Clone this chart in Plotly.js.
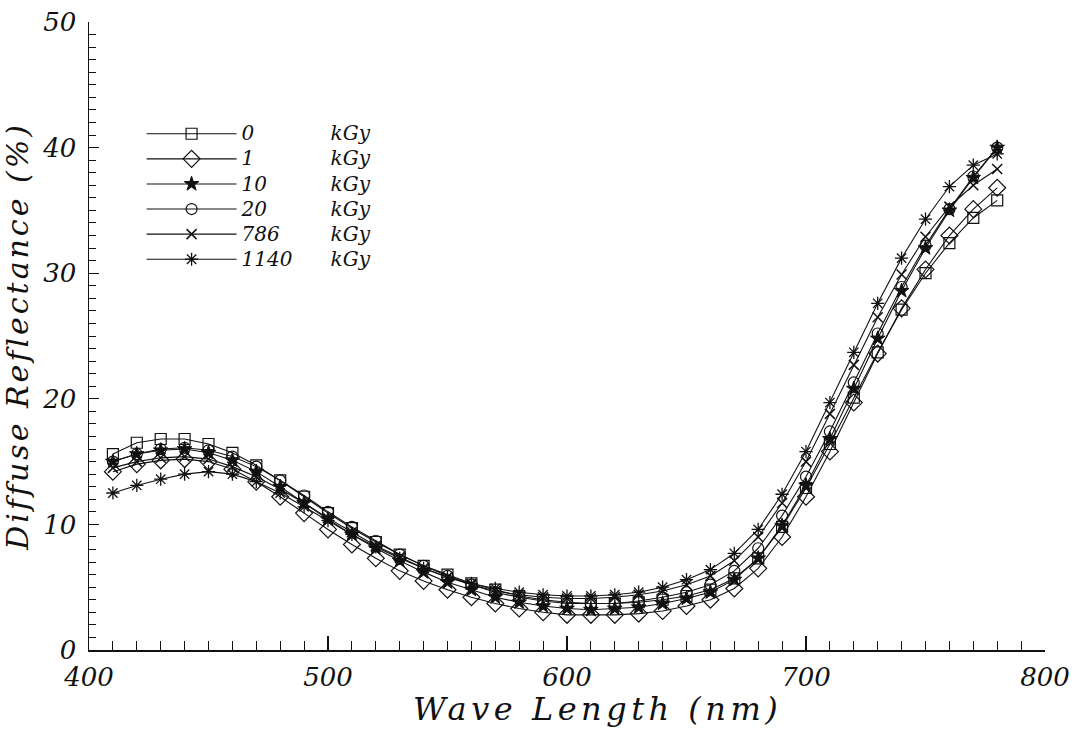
<!DOCTYPE html>
<html>
<head>
<meta charset="utf-8">
<script src="https://cdn.plot.ly/plotly-3.0.1.min.js"></script>
<style>
html,body{margin:0;padding:0;background:#fff;}
#chart{width:1076px;height:738px;}
#chart .legendtext{font-size:20px !important;}
#chart .annotation-text{letter-spacing:4.5px;}
#chart .ytitle{letter-spacing:3px;}
</style>
</head>
<body>
<div id="chart"></div>
<script>
var wavelength = [410,420,430,440,450,460,470,480,490,500,510,520,530,540,550,560,570,580,590,600,610,620,630,640,650,660,670,680,690,700,710,720,730,740,750,760,770,780];
var seriesNames = ["0", "1", "10", "20", "786", "1140"];
var r0 = [15.6,16.5,16.8,16.8,16.4,15.7,14.7,13.5,12.2,10.9,9.7,8.6,7.6,6.7,6.0,5.3,4.8,4.3,4.0,3.8,3.7,3.7,3.8,4.0,4.3,4.8,5.7,7.3,9.8,12.9,16.4,20.1,23.7,27.1,30.0,32.4,34.4,35.8];
var r1 = [14.2,14.8,15.1,15.2,15.0,14.4,13.4,12.2,10.9,9.6,8.4,7.3,6.3,5.5,4.8,4.2,3.7,3.3,3.0,2.8,2.8,2.8,2.9,3.1,3.5,4.0,4.9,6.5,9.0,12.2,15.8,19.7,23.6,27.2,30.3,33.0,35.1,36.8];
var r10 = [15.0,15.6,15.9,16.0,15.7,15.1,14.2,13.0,11.7,10.4,9.2,8.1,7.1,6.2,5.4,4.8,4.2,3.8,3.5,3.3,3.2,3.3,3.4,3.7,4.1,4.6,5.6,7.3,9.9,13.1,16.8,20.8,24.8,28.6,32.0,35.0,37.6,40.0];
var r20 = [15.0,15.6,16.0,16.1,15.9,15.4,14.6,13.5,12.3,11.0,9.8,8.7,7.6,6.7,5.9,5.2,4.6,4.2,3.9,3.7,3.7,3.7,3.9,4.2,4.6,5.2,6.3,8.1,10.7,13.8,17.4,21.3,25.2,28.9,32.2,35.1,37.7,40.0];
var r786 = [14.5,15.0,15.3,15.4,15.2,14.6,13.8,12.8,11.7,10.5,9.4,8.3,7.4,6.5,5.8,5.2,4.7,4.4,4.2,4.1,4.1,4.2,4.4,4.7,5.2,5.9,7.1,9.0,11.7,15.0,18.8,22.7,26.5,29.9,32.9,35.3,37.0,38.3];
var r1140 = [12.5,13.1,13.6,14.0,14.2,14.0,13.4,12.5,11.4,10.3,9.2,8.2,7.3,6.5,5.8,5.3,4.9,4.6,4.4,4.3,4.3,4.4,4.6,5.0,5.6,6.4,7.7,9.6,12.4,15.8,19.7,23.7,27.6,31.2,34.3,36.9,38.6,39.5];
var xTickVals = [400,500,600,700,800];
var yTickVals = [0,10,20,30,40,50];
var xTitle = "Wave Length (nm)";
var yTitle = "Diffuse Reflectance (%)";

var allY = [r0, r1, r10, r20, r786, r1140];
var symbols = ["square-open", "diamond-open", "star", "circle-open", "x-thin-open", "asterisk-open"];
var sizes = [11, 13, 11, 11, 10, 11];
var mlw = [1.2, 1.2, 1, 1.2, 1.5, 1.3];
var fontFam = "'DejaVu Serif', 'Liberation Serif', serif";

function pad(s){ var p = ""; for (var i = s.length; i < 4; i++) p += "\u2007"; return s + p; }
var gap = "\u00a0\u00a0\u00a0\u00a0\u00a0\u00a0";
var trail = "\u00a0\u00a0\u00a0\u00a0\u00a0\u00a0";

var traces = allY.map(function(ys, i){
  return {
    x: wavelength, y: ys, type: "scatter", mode: "lines+markers",
    name: pad(seriesNames[i]) + gap + "kGy" + trail,
    line: {color: "#111", width: 1.1},
    marker: {symbol: symbols[i], size: sizes[i], color: "#111", line: {color: "#111", width: mlw[i]}}
  };
});

var layout = {
  width: 1076, height: 738,
  margin: {l: 89, r: 31, t: 22, b: 88},
  paper_bgcolor: "#fff", plot_bgcolor: "#fff",
  font: {family: fontFam, color: "#111", style: "italic"},
  showlegend: true,
  legend: {x: 0.055, y: 0.85, xanchor: "left", yanchor: "top", bgcolor: "rgba(0,0,0,0)",
           font: {family: fontFam, size: 17, color: "#111", style: "italic"}, itemwidth: 90, tracegroupgap: 0},
  xaxis: {
    range: [400, 800], showgrid: false, zeroline: false, showline: true, linecolor: "#111", linewidth: 1.5,
    ticks: "inside", ticklen: 14, tickwidth: 1.2, tickcolor: "#111", tickvals: xTickVals,
    tickfont: {family: fontFam, size: 26, color: "#111", style: "italic"}, ticklabelstandoff: 3,
    minor: {dtick: 10, ticks: "inside", ticklen: 9, tickwidth: 1.1, tickcolor: "#111"}
  },
  yaxis: {
    range: [0, 50], showgrid: false, zeroline: false, showline: true, linecolor: "#111", linewidth: 1.5,
    ticks: "inside", ticklen: 10, tickwidth: 1.2, tickcolor: "#111", tickvals: yTickVals,
    tickfont: {family: fontFam, size: 26, color: "#111", style: "italic"}, ticklabelstandoff: 6,
    minor: {dtick: 1, ticks: "inside", ticklen: 7, tickwidth: 1, tickcolor: "#111"},
    title: {text: yTitle, font: {family: fontFam, size: 30, color: "#111", style: "italic"}, standoff: 4}
  },
  annotations: [{
    text: xTitle, xref: "paper", yref: "paper", x: 0.532, y: -0.094, xanchor: "center", yanchor: "middle",
    showarrow: false, font: {family: fontFam, size: 32, color: "#111", style: "italic"}
  }]
};

Plotly.newPlot("chart", traces, layout, {displayModeBar: false, staticPlot: true});
</script>
</body>
</html>
